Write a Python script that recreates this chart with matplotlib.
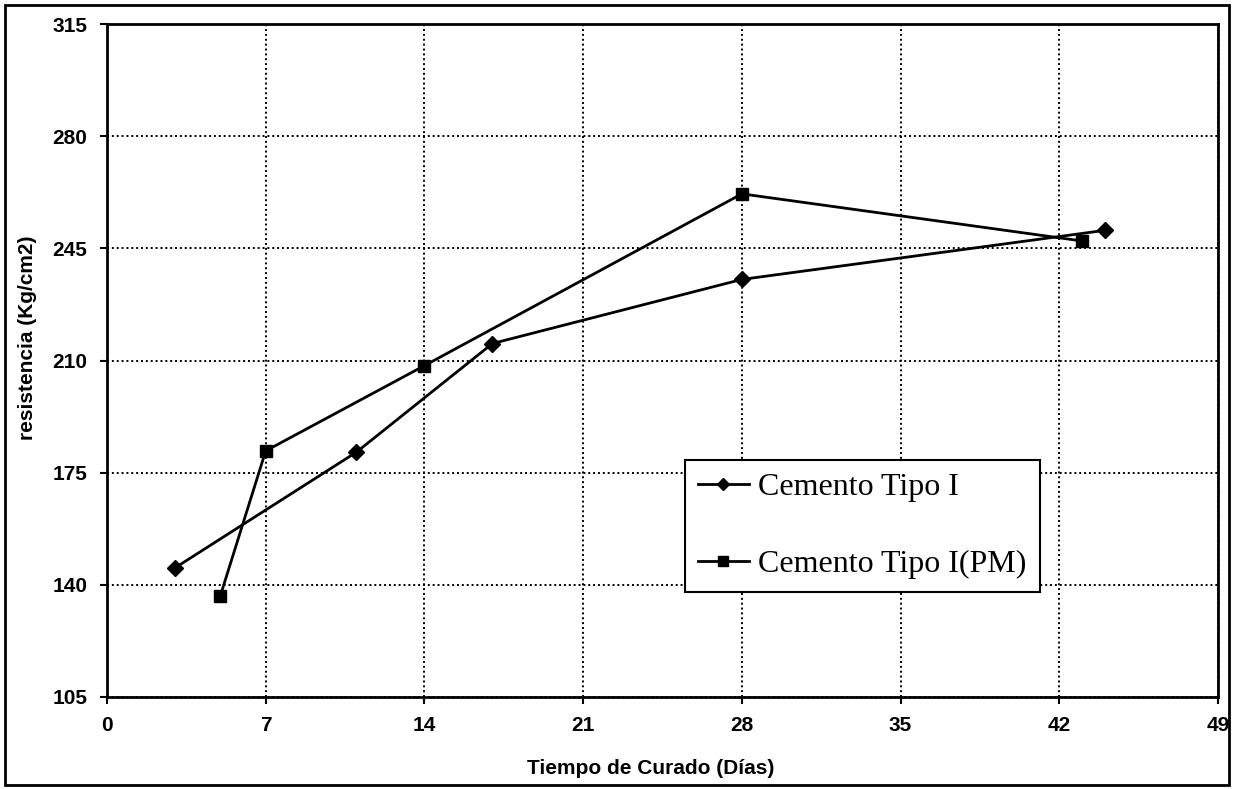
import matplotlib
matplotlib.use("Agg")
import matplotlib.pyplot as plt
from matplotlib.patches import Rectangle

# Data
tipo1_x = [3, 11, 17, 28, 44]
tipo1_y = [145.3, 181.4, 215.3, 235.3, 250.6]
pm_x = [5, 7, 14, 28, 43]
pm_y = [136.6, 181.8, 208.4, 262.0, 247.3]
x_ticks = [0, 7, 14, 21, 28, 35, 42, 49]
y_ticks = [105, 140, 175, 210, 245, 280, 315]
labels = ["Cemento Tipo I", "Cemento Tipo I(PM)"]

fig = plt.figure(figsize=(12.33, 7.89), dpi=100)
ax = fig.add_axes([107/1233, 1-697/789, (1218-107)/1233, (697-24)/789])

ax.plot(tipo1_x, tipo1_y, color="black", lw=2.0, marker="D", markersize=8,
        label=labels[0], zorder=3)
ax.plot(pm_x, pm_y, color="black", lw=2.0, marker="s", markersize=9,
        label=labels[1], zorder=3)

ax.set_xlim(0, 49)
ax.set_ylim(105, 315)
ax.set_xticks(x_ticks)
ax.set_yticks(y_ticks)
ax.grid(True, color="black", linestyle=(0, (1, 1.5)), linewidth=1.4)
for s in ax.spines.values():
    s.set_linewidth(2.0)
    s.set_color("black")
ax.tick_params(direction="out", length=5, width=1.5, colors="black",
               labelsize=15, pad=9)
for lab in ax.get_xticklabels() + ax.get_yticklabels():
    lab.set_fontweight("bold")
    lab.set_family("Liberation Sans")

fig.text(651/1233, 1-768/789, "Tiempo de Curado (Días)", fontsize=15,
         fontweight="bold", family="Liberation Sans", ha="center", va="center")
fig.text(28/1233, 1-338/789, "resistencia (Kg/cm2)", fontsize=15,
         fontweight="bold", family="Liberation Sans", ha="center", va="center",
         rotation=90)

leg = ax.legend(loc="upper left", bbox_to_anchor=((685-107)/1111, (697-460)/673),
                prop={"family": "Liberation Serif", "size": 23},
                frameon=True, fancybox=False, edgecolor="black",
                handlelength=1.6, handletextpad=0.3, labelspacing=1.5,
                borderpad=0.4, borderaxespad=0, markerscale=0.8)
leg.get_frame().set_linewidth(1.5)
leg.get_frame().set_facecolor("white")
leg.get_frame().set_alpha(1)

fig.patches.append(Rectangle((5/1233, 4/789), 1224/1233, 780/789,
                             transform=fig.transFigure, fill=False,
                             edgecolor="black", linewidth=2.0))

fig.savefig("out.png", dpi=100)
